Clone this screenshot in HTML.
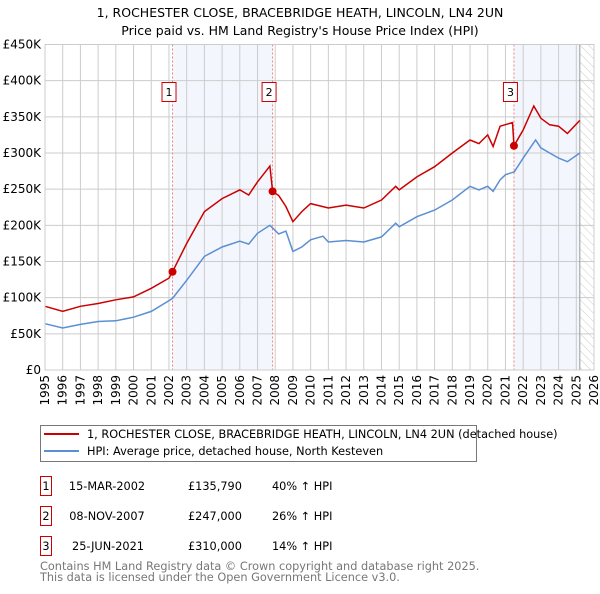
<!DOCTYPE html>
<html><head><meta charset="utf-8"><style>
body{margin:0;background:#fff;font-family:"DejaVu Sans","Liberation Sans",sans-serif;}
svg text{font-family:"DejaVu Sans","Liberation Sans",sans-serif;}
</style></head><body>
<svg id="chart" width="600" height="590" xmlns="http://www.w3.org/2000/svg">
<defs><pattern id="hatch" width="6" height="6" patternUnits="userSpaceOnUse" patternTransform="rotate(-45)"><line x1="0" y1="0" x2="0" y2="6" stroke="#ccc" stroke-width="1"/></pattern></defs>
<text x="300" y="17" text-anchor="middle" font-size="12.5">1, ROCHESTER CLOSE, BRACEBRIDGE HEATH, LINCOLN, LN4 2UN</text>
<text x="300" y="35" text-anchor="middle" font-size="12.5">Price paid vs. HM Land Registry's House Price Index (HPI)</text>
<g id="plot"></g>
<g>
<rect x="40.5" y="425.5" width="436" height="36" fill="#fff" stroke="#777"/>
<line x1="44" y1="434" x2="79" y2="434" stroke="#cc0000" stroke-width="2"/>
<text x="87" y="438" font-size="11.3">1, ROCHESTER CLOSE, BRACEBRIDGE HEATH, LINCOLN, LN4 2UN (detached house)</text>
<line x1="44" y1="451" x2="79" y2="451" stroke="#5b8fd4" stroke-width="2"/>
<text x="87" y="455" font-size="11.3">HPI: Average price, detached house, North Kesteven</text>
</g>
<g font-size="11.3">
<rect x="40.5" y="476.5" width="11" height="19" fill="#fff" stroke="#cc0000"/><text x="46" y="490" text-anchor="middle">1</text>
<text x="107" y="490" text-anchor="middle">15-MAR-2002</text><text x="188" y="490">£135,790</text><text x="272" y="490">40% ↑ HPI</text>
<rect x="40.5" y="506.5" width="11" height="19" fill="#fff" stroke="#cc0000"/><text x="46" y="520" text-anchor="middle">2</text>
<text x="107" y="520" text-anchor="middle">08-NOV-2007</text><text x="188" y="520">£247,000</text><text x="272" y="520">26% ↑ HPI</text>
<rect x="40.5" y="536.5" width="11" height="19" fill="#fff" stroke="#cc0000"/><text x="46" y="550" text-anchor="middle">3</text>
<text x="108" y="550" text-anchor="middle">25-JUN-2021</text><text x="188" y="550">£310,000</text><text x="272" y="550">14% ↑ HPI</text>
</g>
<text font-size="11.3" fill="#777"><tspan x="40" y="570">Contains HM Land Registry data © Crown copyright and database right 2025.</tspan><tspan x="40" y="581">This data is licensed under the Open Government Licence v3.0.</tspan></text>
</svg>
<script>
const hpiYears=[1995,1996,1997,1998,1999,2000,2001,2002,2002.2,2003,2004,2005,2006,2006.5,2007,2007.7,2008.2,2008.6,2009,2009.5,2010,2010.7,2011,2012,2013,2014,2014.8,2015,2016,2017,2018,2019,2019.5,2020,2020.3,2020.7,2021,2021.5,2022,2022.7,2023,2023.5,2024,2024.5,2025.2];
const hpiValues=[64,58,63,67,68,73,81,96,99,124,157,170,178,174,189,200,188,192,164,170,180,185,177,179,177,184,203,198,212,221,235,254,249,254,247,263,270,274,293,318,307,300,293,288,300];
const priceYears=[1995,1996,1997,1998,1999,2000,2001,2002,2002.2,2003,2004,2005,2006,2006.5,2007,2007.7,2007.85,2008.2,2008.6,2009,2009.5,2010,2011,2012,2013,2014,2014.8,2015,2016,2017,2018,2019,2019.5,2020,2020.3,2020.7,2021.4,2021.48,2022,2022.6,2023,2023.5,2024,2024.5,2025.2];
const priceValues=[88,81,88,92,97,101,113,127,135.79,175,219,237,249,242,260,282,247,241,226,205,219,230,224,228,224,235,254,249,267,281,300,318,313,325,309,337,342,310,332,365,348,339,337,327,345];
const saleYears=[2002.2,2007.85,2021.48];
const saleValues=[135.79,247,310];
const saleLabels=["1","2","3"];
const yTicks=[0,50,100,150,200,250,300,350,400,450];
const yTickLabels=["£0","£50K","£100K","£150K","£200K","£250K","£300K","£350K","£400K","£450K"];
const xTicks=[1995,1996,1997,1998,1999,2000,2001,2002,2003,2004,2005,2006,2007,2008,2009,2010,2011,2012,2013,2014,2015,2016,2017,2018,2019,2020,2021,2022,2023,2024,2025,2026];
const NS="http://www.w3.org/2000/svg";
const x0=45,x1=594,y0=370,y1=44.5,dataEnd=2025.2;
const X=y=>x0+(y-1995)*(x1-x0)/31;
const Y=v=>y0-v*(y0-y1)/450;
const g=document.getElementById('plot');
function mk(t,a){const e=document.createElementNS(NS,t);for(const k in a)e.setAttribute(k,a[k]);g.appendChild(e);return e;}
let e;
e=mk('rect',{x:X(saleYears[0]),y:y1,width:X(saleYears[1])-X(saleYears[0]),height:y0-y1,fill:'#eef3fc',opacity:0.7});


e=mk('rect',{x:X(saleYears[2]),y:y1,width:X(dataEnd)-X(saleYears[2]),height:y0-y1,fill:'#eef3fc',opacity:0.7});


e=mk('rect',{x:X(dataEnd),y:y1,width:x1-X(dataEnd),height:y0-y1,fill:'url(#hatch)'});


yTicks.forEach((v,i)=>{
 e=mk('line',{x1:x0,x2:x1,y1:Y(v),y2:Y(v),stroke:'#ccc','stroke-width':1});
 
 
 e=mk('text',{x:x0-4,y:Y(v)+4,'text-anchor':'end','font-size':12});
 e.textContent=yTickLabels[i];
 
 
});
xTicks.forEach(yr=>{
 e=mk('line',{x1:X(yr),x2:X(yr),y1:y1,y2:y0,stroke:'#ccc','stroke-width':1});
 
 
 const tx=X(yr)+4,ty=375;
 e=mk('text',{x:tx,y:ty,'text-anchor':'end','font-size':12,transform:'rotate(-90 '+tx+' '+ty+')'});
 e.textContent=yr;
 
 
});
e=mk('line',{x1:X(dataEnd),x2:X(dataEnd),y1:y1,y2:y0,stroke:'#999','stroke-width':1});


saleYears.forEach((yr,i)=>{
 e=mk('line',{x1:X(yr),x2:X(yr),y1:y1,y2:y0,stroke:'#f08080','stroke-width':1,'stroke-dasharray':'2,2'});
 
 
});
function path(xs,vs,c,name){
 const d=xs.map((yr,i)=>(i?'L':'M')+X(yr).toFixed(1)+','+Y(vs[i]).toFixed(1)).join('');
 e=mk('path',{d:d,fill:'none',stroke:c,'stroke-width':1.5});
 
 
}
path(hpiYears,hpiValues,'#5b8fd4','hpi-line');
path(priceYears,priceValues,'#cc0000','price-line');
saleYears.forEach((yr,i)=>{
 e=mk('circle',{cx:X(yr),cy:Y(saleValues[i]),r:4,fill:'#cc0000'});
 
 
 e=mk('rect',{x:X(yr)-10.5,y:82.5,width:14,height:19,fill:'#fff',stroke:'#cc0000'});
 
 
 e=mk('text',{x:X(yr)-3.5,y:96,'text-anchor':'middle','font-size':11});
 e.textContent=saleLabels[i];
 
 
});
e=mk('rect',{x:x0,y:y1,width:x1-x0,height:y0-y1,fill:'none',stroke:'#ccc'});


</script>
</body></html>
